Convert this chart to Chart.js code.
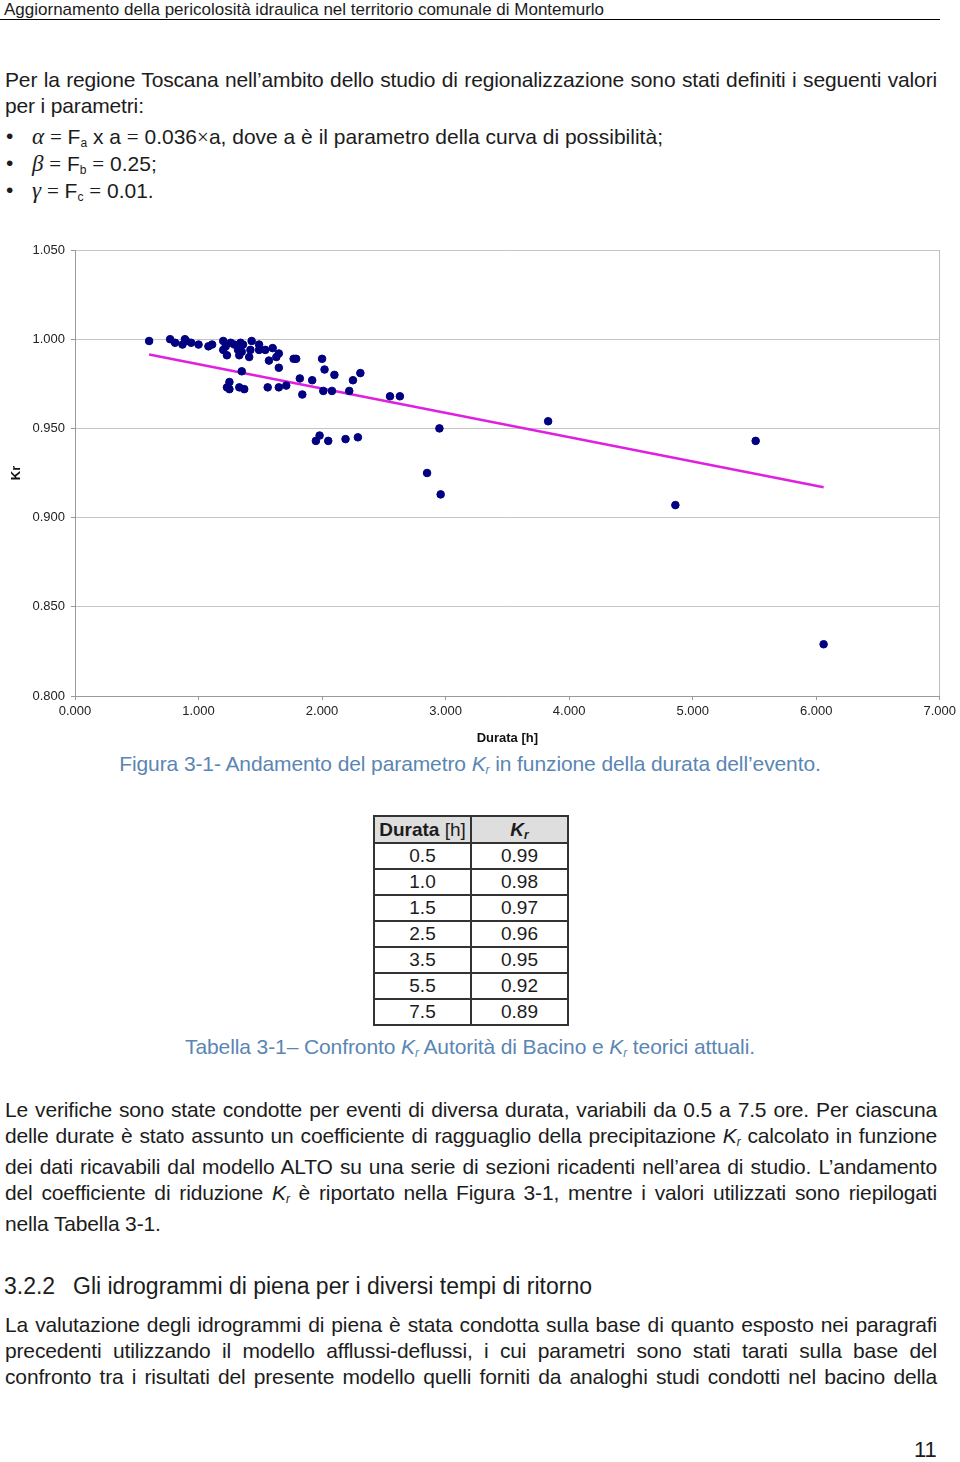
<!DOCTYPE html>
<html>
<head>
<meta charset="utf-8">
<script src="https://cdn.jsdelivr.net/npm/chart.js@4.4.1/dist/chart.umd.min.js"></script>
<style>
  body { margin:0; width:960px; height:1462px; background:#fff; position:relative; font-family:"Liberation Sans", Arial, sans-serif; color:#1c1c1c; overflow:hidden; }
  .abs { position:absolute; white-space:nowrap; }
  .ln { position:absolute; left:5px; width:932px; font-size:21px; line-height:24px; height:24px; white-space:nowrap; letter-spacing:-0.15px; }
  .just { text-align:justify; text-align-last:justify; }
  .m { font-family:"Liberation Serif", serif; }
  .gk { font-family:"Liberation Serif", serif; font-style:italic; font-size:23px; }
  sub { font-size:12px; vertical-align:-3px; line-height:0; }
  .kr { font-style:italic; }
  .cap { color:#5a86b3; font-size:21px; letter-spacing:-0.1px; }
  table { position:absolute; left:373px; top:815px; border-collapse:collapse; font-size:19px; }
  td, th { border:2px solid #333; text-align:center; padding:0; height:24px; line-height:22px; }
  th { background:#dedede; height:25px; }
</style>
</head>
<body>
<div class="abs" style="left:4px;top:0px;font-size:17px;">Aggiornamento della pericolosità idraulica nel territorio comunale di Montemurlo</div>
<div class="abs" style="left:0;top:19px;width:940px;height:1px;background:#000;"></div>

<div class="ln just" style="top:68px;">Per la regione Toscana nell’ambito dello studio di regionalizzazione sono stati definiti i seguenti valori</div>
<div class="ln" style="top:94px;">per i parametri:</div>
<div class="abs" style="left:6px;top:124px;font-size:21px;">•</div>
<div class="abs" style="left:32px;top:124px;font-size:21px;"><span class="gk">α</span> <span class="m">=</span> F<sub>a</sub> x a <span class="m">=</span> 0.036<span class="m">×</span>a, dove a è il parametro della curva di possibilità;</div>
<div class="abs" style="left:6px;top:151px;font-size:21px;">•</div>
<div class="abs" style="left:32px;top:151px;font-size:21px;"><span class="gk">β</span> <span class="m">=</span> F<sub>b</sub> <span class="m">=</span> 0.25;</div>
<div class="abs" style="left:6px;top:178px;font-size:21px;">•</div>
<div class="abs" style="left:32px;top:178px;font-size:21px;"><span class="gk">γ</span> <span class="m">=</span> F<sub>c</sub> <span class="m">=</span> 0.01.</div>

<canvas id="myChart" width="960" height="515" style="position:absolute;left:0;top:235px;"></canvas>

<div class="abs cap" style="left:0;width:940px;text-align:center;top:752px;">Figura 3-1- Andamento del parametro <span class="kr">K<sub>r</sub></span> in funzione della durata dell’evento.</div>

<table id="tab">
  <tr><th style="width:95px;"><b>Durata</b> <span style="font-weight:normal">[h]</span></th><th style="width:95px;"><i>K<sub>r</sub></i></th></tr>
</table>

<div class="abs cap" style="left:0;width:940px;text-align:center;top:1035px;">Tabella 3-1– Confronto <span class="kr">K<sub>r</sub></span> Autorità di Bacino e <span class="kr">K<sub>r</sub></span> teorici attuali.</div>

<div class="ln just" style="top:1098px;">Le verifiche sono state condotte per eventi di diversa durata, variabili da 0.5 a 7.5 ore. Per ciascuna</div>
<div class="ln just" style="top:1124px;">delle durate è stato assunto un coefficiente di ragguaglio della precipitazione <span class="kr">K<sub>r</sub></span> calcolato in funzione</div>
<div class="ln just" style="top:1155px;">dei dati ricavabili dal modello ALTO su una serie di sezioni ricadenti nell’area di studio. L’andamento</div>
<div class="ln just" style="top:1181px;">del coefficiente di riduzione <span class="kr">K<sub>r</sub></span> è riportato nella Figura 3-1, mentre i valori utilizzati sono riepilogati</div>
<div class="ln" style="top:1212px;">nella Tabella 3-1.</div>

<div class="abs" style="left:4px;top:1273px;font-size:23px;">3.2.2</div>
<div class="abs" style="left:73px;top:1273px;font-size:23px;">Gli idrogrammi di piena per i diversi tempi di ritorno</div>

<div class="ln just" style="top:1313px;">La valutazione degli idrogrammi di piena è stata condotta sulla base di quanto esposto nei paragrafi</div>
<div class="ln just" style="top:1339px;">precedenti utilizzando il modello afflussi-deflussi, i cui parametri sono stati tarati sulla base del</div>
<div class="ln just" style="top:1365px;">confronto tra i risultati del presente modello quelli forniti da analoghi studi condotti nel bacino della</div>

<div class="abs" style="left:914px;top:1437px;font-size:22px;">11</div>

<script>
// durata [h] e Kr
const durata = [0.60, 0.77, 0.81, 0.87, 0.89, 0.90, 0.94, 1.00, 1.08, 1.11, 1.20, 1.20, 1.22, 1.23, 1.26, 1.29, 1.32, 1.33, 1.34, 1.36, 1.35, 1.35,
  1.41, 1.43, 1.42, 1.49, 1.49, 1.54, 1.60, 1.57, 1.63, 1.65, 1.65, 1.77, 1.79, 1.82, 1.84, 1.92, 2.00, 2.02, 2.01, 2.08, 2.10, 2.22, 2.25, 2.31,
  2.55, 2.63, 1.23, 1.25, 1.25, 1.33, 1.37, 1.56, 1.65, 1.71, 1.95, 1.98, 2.05, 2.19, 2.29, 2.95, 2.85, 2.96, 3.83, 5.51, 4.86, 6.06];
const kr = [0.999, 1.000, 0.998, 0.997, 1.000, 0.999, 0.998, 0.997, 0.996, 0.997, 0.999, 0.994, 0.996, 0.991, 0.998, 0.997, 0.994, 0.991, 0.998, 0.997, 0.993, 0.982,
  0.990, 0.999, 0.994, 0.997, 0.994, 0.994, 0.995, 0.988, 0.990, 0.992, 0.984, 0.989, 0.989, 0.978, 0.969, 0.977, 0.989, 0.983, 0.971, 0.971, 0.980, 0.971, 0.977, 0.981,
  0.968, 0.968, 0.973, 0.976, 0.972, 0.973, 0.972, 0.973, 0.973, 0.974, 0.943, 0.946, 0.943, 0.944, 0.945, 0.950, 0.925, 0.913, 0.954, 0.943, 0.907, 0.829];
// linea di tendenza (estremi)
const trendX = [0.60, 6.06];
const trendY = [0.9914, 0.917];

// tabella
const tabDurata = ["0.5", "1.0", "1.5", "2.5", "3.5", "5.5", "7.5"];
const tabKr = ["0.99", "0.98", "0.97", "0.96", "0.95", "0.92", "0.89"];

var tab = document.getElementById("tab");
for (var i = 0; i < tabDurata.length; i++) {
  var tr = document.createElement("tr");
  tr.innerHTML = "<td>" + tabDurata[i] + "</td><td>" + tabKr[i] + "</td>";
  tab.appendChild(tr);
}

var ctx = document.getElementById("myChart");
const data = {
  datasets: [
    {
      label: "Kr",
      data: durata.map((x, i) => ({ x: x, y: kr[i] })),
      backgroundColor: "#000080",
      borderColor: "#000080",
      pointRadius: 3.8,
      pointHoverRadius: 3.8,
      showLine: false,
    },
    {
      type: "line",
      label: "Lineare",
      data: trendX.map((x, i) => ({ x: x, y: trendY[i] })),
      borderColor: "#e020e0",
      borderWidth: 2.5,
      pointRadius: 0,
      fill: false,
      tension: 0,
    },
  ],
};
const config = {
  type: "scatter",
  data: data,
  options: {
    responsive: false,
    animation: false,
    devicePixelRatio: 1,
    layout: { padding: { top: 15, right: 20, left: 0, bottom: 0 } },
    plugins: { legend: { display: false }, tooltip: { enabled: false } },
    scales: {
      x: {
        type: "linear",
        min: 0,
        max: 7,
        ticks: { stepSize: 1, callback: (v) => v.toFixed(3), color: "#222", font: { size: 13, family: "Liberation Sans" }, maxRotation: 0, padding: 4 },
        grid: { color: (c) => (c.tick && c.tick.value === 7 ? "#bdbdbd" : "rgba(0,0,0,0)"), tickColor: "#999", tickLength: 4 },
        border: { color: "#999" },
        title: { display: true, text: "Durata [h]", color: "#111", font: { size: 13, weight: "bold", family: "Liberation Sans" }, padding: { top: 2, bottom: 4 } },
        afterFit: (s) => { s.height = 54; },
      },
      y: {
        min: 0.8,
        max: 1.05,
        ticks: { stepSize: 0.05, callback: (v) => v.toFixed(3), color: "#222", font: { size: 13, family: "Liberation Sans" }, padding: 6 },
        grid: { color: "#c4c4c4", tickColor: "#999", tickLength: 4 },
        border: { color: "#999" },
        title: { display: true, text: "Kr", color: "#111", font: { size: 13, weight: "bold", family: "Liberation Sans" }, padding: { top: 9, bottom: 0 } },
        afterFit: (s) => { s.width = 75; },
      },
    },
  },
};

var myChart = new Chart(ctx, config);
</script>
</body>
</html>
